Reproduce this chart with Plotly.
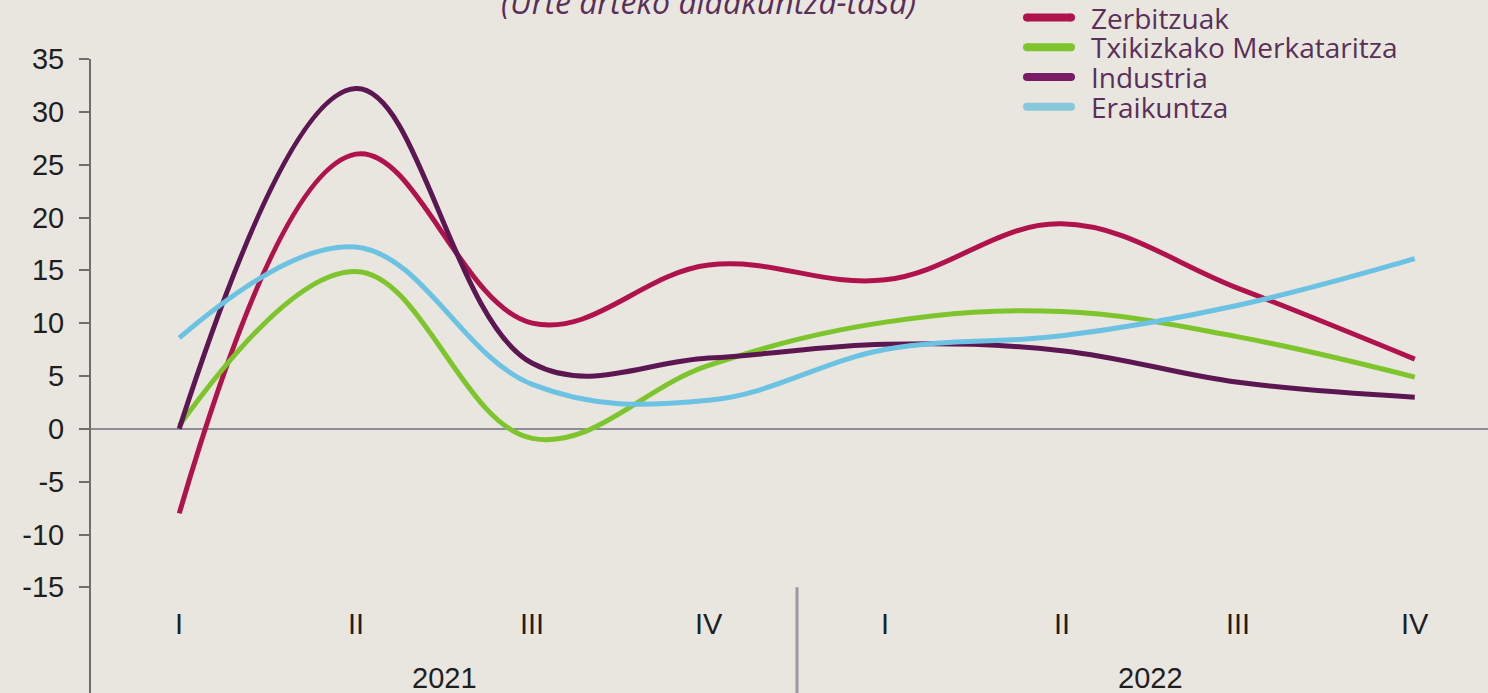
import plotly.graph_objects as go

quarters = ["I", "II", "III", "IV", "I", "II", "III", "IV"]
years = ["2021", "2022"]
x_idx = list(range(len(quarters)))

zerbitzuak = [-8.0, 26.0, 10.0, 15.5, 14.1, 19.4, 13.3, 6.6]
txikizkako = [0.3, 14.9, -0.9, 6.0, 10.1, 11.1, 8.7, 4.9]
industria = [0.0, 32.2, 6.2, 6.7, 8.0, 7.4, 4.4, 3.0]
eraikuntza = [8.6, 17.2, 4.2, 2.7, 7.5, 8.8, 11.7, 16.1]

names = ["Zerbitzuak", "Txikizkako Merkataritza", "Industria", "Eraikuntza"]
values = [zerbitzuak, txikizkako, industria, eraikuntza]
line_colors = ["#b0124b", "#7ec52d", "#5c1752", "#6cc2e2"]
legend_colors = ["#b0124b", "#7ec52d", "#7a1b68", "#88c8dc"]

y_ticks = [-15, -10, -5, 0, 5, 10, 15, 20, 25, 30, 35]

H = 693
T = 59
PH = H - T


def py(px):
    return (H - px) / PH


fig = go.Figure()
for name, vals, col in zip(names, values, line_colors):
    fig.add_trace(go.Scatter(
        x=x_idx, y=vals, name=name, mode="lines", showlegend=False,
        line=dict(color=col, width=5, shape="spline", smoothing=1.1),
    ))

bg = "#e9e6e0"
tick_font = dict(family="Liberation Sans", size=29, color="#1e1e1e")
purple_text = "#5a2f58"

fig.update_layout(
    width=1488, height=693,
    paper_bgcolor=bg, plot_bgcolor=bg,
    margin=dict(l=91, r=0, t=T, b=0),
    showlegend=False,
    xaxis=dict(
        range=[-0.5, 7.415], showgrid=False, zeroline=False,
        showticklabels=False, ticks="", showline=False,
    ),
    yaxis=dict(
        range=[-25, 35], showgrid=False, zeroline=True,
        zerolinecolor="#8d8c96", zerolinewidth=2,
        tickvals=y_ticks, ticktext=[str(v) for v in y_ticks],
        ticks="outside", ticklen=10, tickwidth=2, tickcolor="#6e6e6e",
        showline=True, linecolor="#6e6e6e", linewidth=2,
        tickfont=tick_font, ticklabelstandoff=9,
    ),
)

for i, q in enumerate(quarters):
    fig.add_annotation(x=i, y=-18.5, text=q, showarrow=False, font=tick_font)
for j, yr in enumerate(years):
    fig.add_annotation(x=1.5 + 4 * j, y=-23.6, text=yr, showarrow=False, font=tick_font)

fig.add_shape(type="line", x0=3.5, x1=3.5, y0=-15, y1=-25,
              line=dict(color="#9a99a3", width=3))

# title (partly cut off at the top in the reference)
fig.add_annotation(xref="paper", yref="paper", x=(708 - 91) / 1397, y=py(2),
                   text="<i>(Urte arteko aldakuntza-tasa)</i>", showarrow=False,
                   xanchor="center", yanchor="middle",
                   font=dict(family="Open Sans", size=32, color=purple_text))

# legend (drawn manually to match the tight row spacing)
lx = (1023 - 91) / 1397
tx = (1089 - 91) / 1397
for k, (name, col) in enumerate(zip(names, legend_colors)):
    cy = py(17.6 + 29.7 * k)
    fig.add_shape(type="line", xref="paper", yref="paper",
                  xsizemode="pixel", ysizemode="pixel", xanchor=lx, yanchor=cy,
                  x0=4, x1=48, y0=0, y1=0, line=dict(color=col, width=8))
    for cx in (4, 48):
        fig.add_shape(type="circle", xref="paper", yref="paper",
                      xsizemode="pixel", ysizemode="pixel", xanchor=lx, yanchor=cy,
                      x0=cx - 4, x1=cx + 4, y0=-4, y1=4,
                      fillcolor=col, line=dict(width=0))
    fig.add_annotation(xref="paper", yref="paper", x=tx, y=cy, text=name,
                       showarrow=False, xanchor="left", yanchor="middle",
                       font=dict(family="Open Sans", size=28, color=purple_text))

fig.write_html("out.html", config={"displayModeBar": False})

with open("out.html", "r", encoding="utf-8") as f:
    html = f.read()
html = html.replace("<head>", "<head><style>html,body{margin:0;padding:0;overflow:hidden;}</style>", 1)
with open("out.html", "w", encoding="utf-8") as f:
    f.write(html)
